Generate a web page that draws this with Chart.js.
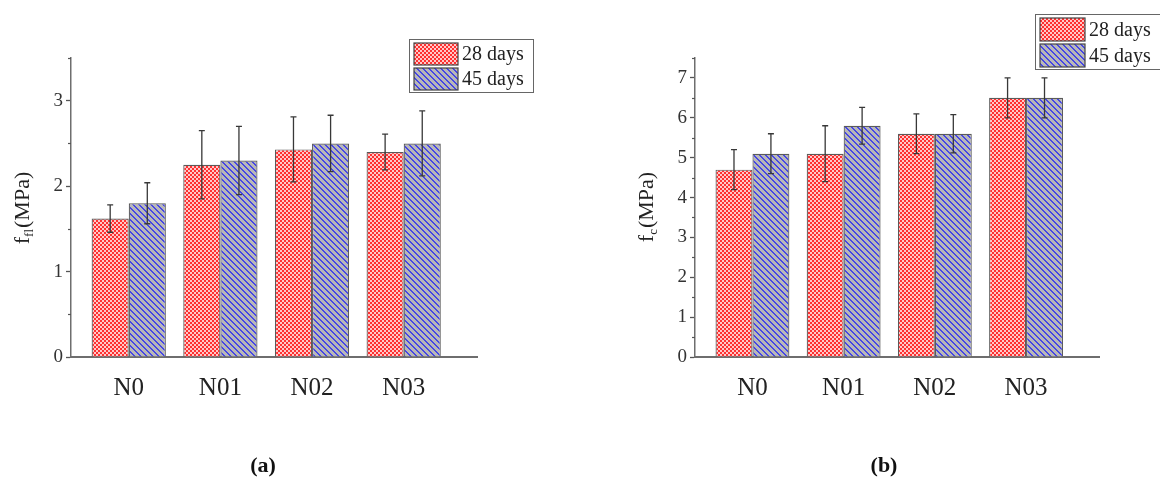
<!DOCTYPE html>
<html>
<head>
<meta charset="utf-8">
<script src="https://cdn.jsdelivr.net/npm/chart.js@4.4.0/dist/chart.umd.min.js"></script>
<style>
  body { margin: 0; background: #fff; }
  #wrap { position: relative; width: 1160px; height: 478px; }
  canvas { position: absolute; top: 0; }
</style>
</head>
<body>
<div id="wrap">
  <canvas id="chartA" width="580" height="478" style="left:0"></canvas>
  <canvas id="chartB" width="580" height="478" style="left:580px"></canvas>
</div>
<script>
// data
const categories = ["N0", "N01", "N02", "N03"];
const seriesNames = ["28 days", "45 days"];

// (a) flexural strength
const flex28 = [1.62, 2.25, 2.43, 2.40];
const flex45 = [1.80, 2.30, 2.50, 2.50];
const flexErr28 = [0.16, 0.40, 0.38, 0.21];
const flexErr45 = [0.24, 0.40, 0.33, 0.38];
const flexTicks = [0, 1, 2, 3];

// (b) compressive strength
const comp28 = [4.7, 5.1, 5.6, 6.5];
const comp45 = [5.1, 5.8, 5.6, 6.5];
const compErr28 = [0.5, 0.7, 0.5, 0.5];
const compErr45 = [0.5, 0.46, 0.48, 0.5];
const compTicks = [0, 1, 2, 3, 4, 5, 6, 7];

const FONT = "'Liberation Serif', 'DejaVu Serif', serif";

// fill patterns
function redPattern() {
  const c = document.createElement("canvas");
  c.width = 4; c.height = 4;
  const g = c.getContext("2d");
  g.fillStyle = "#ffc8c8";
  g.fillRect(0, 0, 4, 4);
  g.fillStyle = "#ff3030";
  g.fillRect(0, 0, 2, 2);
  g.fillRect(2, 2, 2, 2);
  return g.createPattern(c, "repeat");
}

function bluePattern() {
  const c = document.createElement("canvas");
  c.width = 6; c.height = 6;
  const g = c.getContext("2d");
  g.fillStyle = "#b8b8b8";
  g.fillRect(0, 0, 6, 6);
  g.fillStyle = "#4646e6";
  for (let i = 0; i < 6; i++) {
    g.fillRect(i, i, 1, 1);
    g.fillRect((i + 1) % 6, i, 1, 1);
  }
  return g.createPattern(c, "repeat");
}

const fill28 = redPattern();
const fill45 = bluePattern();

// error bars, minor ticks, axis title, legend, caption
const decoPlugin = {
  id: "deco",
  afterDatasetsDraw(chart) {
    const ctx = chart.ctx;
    const yScale = chart.scales.y;
    ctx.save();
    ctx.strokeStyle = "#383838";
    ctx.lineWidth = 1.3;
    chart.data.datasets.forEach((ds, i) => {
      chart.getDatasetMeta(i).data.forEach((bar, j) => {
        const v = ds.data[j].y, e = ds.errors[j];
        const top = yScale.getPixelForValue(v + e);
        const bot = yScale.getPixelForValue(v - e);
        ctx.beginPath();
        ctx.moveTo(bar.x, top); ctx.lineTo(bar.x, bot);
        ctx.moveTo(bar.x - 3, top); ctx.lineTo(bar.x + 3, top);
        ctx.moveTo(bar.x - 3, bot); ctx.lineTo(bar.x + 3, bot);
        ctx.stroke();
      });
    });
    ctx.restore();
  },
  afterDraw(chart, args, opts) {
    const ctx = chart.ctx;
    const yScale = chart.scales.y;
    const left = chart.chartArea.left;

    // minor ticks at halves
    ctx.save();
    ctx.strokeStyle = "#555";
    ctx.lineWidth = 1.2;
    for (let v = 0.5; v <= yScale.max + 1e-9; v += 1) {
      const p = Math.round(yScale.getPixelForValue(v)) + 0.5;
      ctx.beginPath();
      ctx.moveTo(left - 3, p); ctx.lineTo(left, p);
      ctx.stroke();
    }
    ctx.restore();

    // y title with subscript
    ctx.save();
    ctx.translate(opts.titleX, opts.titleY);
    ctx.rotate(-Math.PI / 2);
    ctx.fillStyle = "#222";
    ctx.textBaseline = "alphabetic";
    ctx.textAlign = "left";
    const big = "22px " + FONT, small = "13px " + FONT;
    ctx.font = big;
    const wF = ctx.measureText("f").width;
    const wRest = ctx.measureText("(MPa)").width;
    ctx.font = small;
    const wSub = ctx.measureText(opts.sub).width;
    let x = -(wF + wSub + 1 + wRest) / 2;
    ctx.font = big; ctx.fillText("f", x, 0); x += wF;
    ctx.font = small; ctx.fillText(opts.sub, x, 4); x += wSub + 1;
    ctx.font = big; ctx.fillText("(MPa)", x, 0);
    ctx.restore();

    // legend
    const lg = opts.legend;
    ctx.save();
    ctx.fillStyle = "#fff";
    ctx.fillRect(lg.x, lg.y, lg.w, lg.h);
    ctx.strokeStyle = "#666";
    ctx.lineWidth = 1;
    ctx.strokeRect(lg.x + 0.5, lg.y + 0.5, lg.w, lg.h);
    chart.data.datasets.forEach((ds, i) => {
      const sy = lg.y + 4 + i * (lg.sh + 3);
      ctx.fillStyle = ds.backgroundColor;
      ctx.fillRect(lg.x + 5, sy, lg.sw, lg.sh);
      ctx.strokeStyle = "#444";
      ctx.lineWidth = 1.2;
      ctx.strokeRect(lg.x + 5, sy, lg.sw, lg.sh);
      ctx.fillStyle = "#222";
      ctx.font = "20px " + FONT;
      ctx.textBaseline = "middle";
      ctx.fillText(ds.label, lg.x + lg.sw + 9, sy + lg.sh / 2 + 1);
    });
    ctx.restore();

    // caption
    ctx.save();
    ctx.fillStyle = "#111";
    ctx.font = "bold 22px " + FONT;
    ctx.textAlign = "center";
    ctx.textBaseline = "middle";
    ctx.fillText(opts.caption, opts.captionX, 466);
    ctx.restore();
  }
};

function makeChart(id, v28, v45, e28, e45, yMax, yTicks, deco, padLeft, padRight) {
  return new Chart(document.getElementById(id), {
    type: "bar",
    data: {
      datasets: [
        {
          label: seriesNames[0],
          data: v28.map((v, i) => ({ x: i + 1, y: v })),
          errors: e28,
          backgroundColor: fill28,
          borderColor: "#5a5a5a",
          borderWidth: 1.2,
          barPercentage: 1,
          categoryPercentage: 0.81
        },
        {
          label: seriesNames[1],
          data: v45.map((v, i) => ({ x: i + 1, y: v })),
          errors: e45,
          backgroundColor: fill45,
          borderColor: "#5a5a5a",
          borderWidth: 1.2,
          barPercentage: 1,
          categoryPercentage: 0.81
        }
      ]
    },
    options: {
      responsive: false,
      animation: false,
      layout: { padding: { left: padLeft, right: padRight, top: 58, bottom: 71 } },
      scales: {
        x: {
          type: "linear",
          offset: false,
          min: 0.37,
          max: 4.8,
          afterBuildTicks: s => { s.ticks = categories.map((c, i) => ({ value: i + 1 })); },
          afterFit: s => { s.height = 50; },
          ticks: {
            callback: v => categories[v - 1],
            font: { family: FONT, size: 25 },
            color: "#222",
            padding: 8,
            autoSkip: false,
            maxRotation: 0
          },
          grid: { display: false },
          border: { color: "#6e6e6e", width: 2 }
        },
        y: {
          min: 0,
          max: yMax,
          afterBuildTicks: s => { s.ticks = yTicks.map(v => ({ value: v })); },
          afterFit: s => { s.width = 71; },
          ticks: { font: { family: FONT, size: 19 }, color: "#333", padding: 3 },
          grid: { drawOnChartArea: false, tickLength: 5, color: "#555", tickWidth: 1.3 },
          border: { color: "#6e6e6e", width: 1.5 }
        }
      },
      plugins: {
        legend: { display: false },
        tooltip: { enabled: false },
        deco: deco
      }
    },
    plugins: [decoPlugin]
  });
}

makeChart("chartA", flex28, flex45, flexErr28, flexErr45, 3.5, flexTicks, {
  sub: "fl", titleX: 29, titleY: 208,
  legend: { x: 409, y: 39, w: 124, h: 53, sw: 44, sh: 22 },
  caption: "(a)", captionX: 263
}, 0, 103);

makeChart("chartB", comp28, comp45, compErr28, compErr45, 7.5, compTicks, {
  sub: "c", titleX: 73, titleY: 207,
  legend: { x: 455, y: 14, w: 130, h: 55, sw: 45, sh: 23 },
  caption: "(b)", captionX: 304
}, 44, 61);
</script>
</body>
</html>
